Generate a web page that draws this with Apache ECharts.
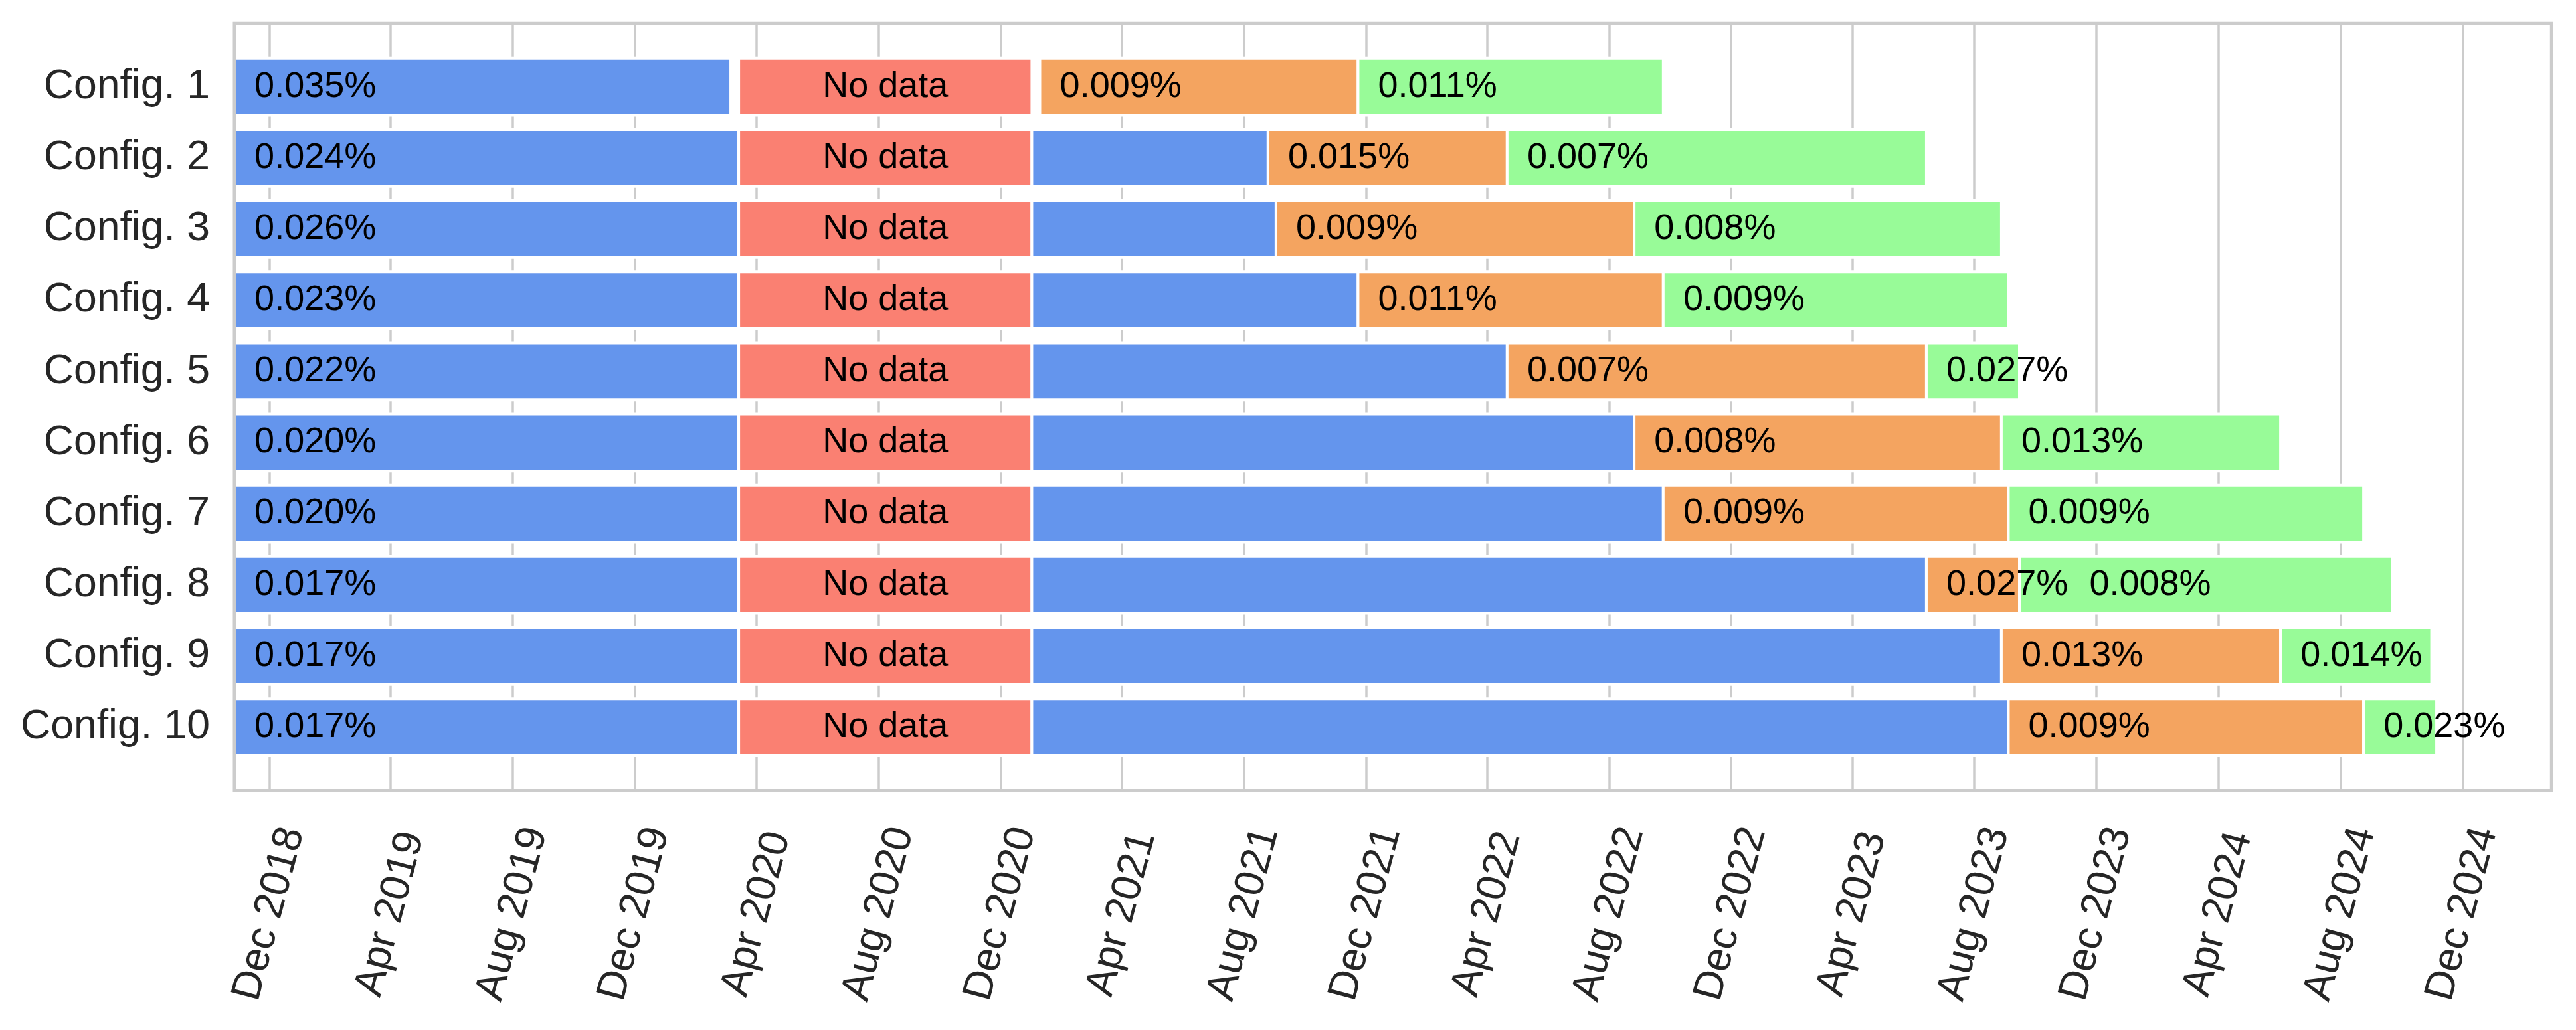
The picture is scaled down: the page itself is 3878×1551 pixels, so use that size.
<!DOCTYPE html>
<html>
<head>
<meta charset="utf-8">
<script src="https://cdn.jsdelivr.net/npm/echarts@6/dist/echarts.min.js"></script>
<style>
html, body { margin: 0; padding: 0; background: #ffffff; }
#chart { width: 3878px; height: 1551px; }
</style>
</head>
<body>
<div id="chart"></div>
<script>
// ---------------- data ----------------
const categories = ['Config. 1', 'Config. 2', 'Config. 3', 'Config. 4', 'Config. 5',
                    'Config. 6', 'Config. 7', 'Config. 8', 'Config. 9', 'Config. 10'];

const axisStart = '2018-10-27';
const axisEnd = '2025-02-28';

const tickDates = ['2018-12-01', '2019-04-01', '2019-08-01', '2019-12-01', '2020-04-01',
                   '2020-08-01', '2020-12-01', '2021-04-01', '2021-08-01', '2021-12-01',
                   '2022-04-01', '2022-08-01', '2022-12-01', '2023-04-01', '2023-08-01',
                   '2023-12-01', '2024-04-01', '2024-08-01', '2024-12-01'];

// first period (blue, labelled)
const blueStart = ['2018-10-27', '2018-10-27', '2018-10-27', '2018-10-27', '2018-10-27',
                   '2018-10-27', '2018-10-27', '2018-10-27', '2018-10-27', '2018-10-27'];
const blueEnd   = ['2020-03-06', '2020-03-14', '2020-03-14', '2020-03-14', '2020-03-14',
                   '2020-03-14', '2020-03-14', '2020-03-14', '2020-03-14', '2020-03-14'];
const blueLabels = ['0.035%', '0.024%', '0.026%', '0.023%', '0.022%',
                    '0.020%', '0.020%', '0.017%', '0.017%', '0.017%'];

// no-data period (red)
const noDataStart = ['2020-03-14', '2020-03-14', '2020-03-14', '2020-03-14', '2020-03-14',
                     '2020-03-14', '2020-03-14', '2020-03-14', '2020-03-14', '2020-03-14'];
const noDataEnd   = ['2021-01-01', '2021-01-01', '2021-01-01', '2021-01-01', '2021-01-01',
                     '2021-01-01', '2021-01-01', '2021-01-01', '2021-01-01', '2021-01-01'];
const noDataLabel = 'No data';

// second blue period (unlabelled)
const blue2Start = [null, '2021-01-01', '2021-01-01', '2021-01-01', '2021-01-01',
                    '2021-01-01', '2021-01-01', '2021-01-01', '2021-01-01', '2021-01-01'];
const blue2End   = [null, '2021-08-25', '2021-09-02', '2021-11-23', '2022-04-21',
                    '2022-08-26', '2022-09-24', '2023-06-14', '2023-08-28', '2023-09-04'];

// orange period
const orangeStart = ['2021-01-09', '2021-08-25', '2021-09-02', '2021-11-23', '2022-04-21',
                     '2022-08-26', '2022-09-24', '2023-06-14', '2023-08-28', '2023-09-04'];
const orangeEnd   = ['2021-11-23', '2022-04-21', '2022-08-26', '2022-09-24', '2023-06-14',
                     '2023-08-28', '2023-09-04', '2023-09-15', '2024-06-02', '2024-08-24'];
const orangeLabels = ['0.009%', '0.015%', '0.009%', '0.011%', '0.007%',
                      '0.008%', '0.009%', '0.027%', '0.013%', '0.009%'];

// green period
const greenStart = ['2021-11-23', '2022-04-21', '2022-08-26', '2022-09-24', '2023-06-14',
                    '2023-08-28', '2023-09-04', '2023-09-15', '2024-06-02', '2024-08-24'];
const greenEnd   = ['2022-09-24', '2023-06-14', '2023-08-28', '2023-09-04', '2023-09-15',
                    '2024-06-02', '2024-08-24', '2024-09-22', '2024-10-31', '2024-11-05'];
const greenLabels = ['0.011%', '0.007%', '0.008%', '0.009%', '0.027%',
                     '0.013%', '0.009%', '0.008%', '0.014%', '0.023%'];
// days after the segment start at which each green label begins
const greenLabelShiftDays = [20, 20, 20, 20, 20, 20, 20, 70, 20, 20];

// ---------------- build ----------------
const DAY = 86400000;
const LABEL_SHIFT_DAYS = 20;
const colors = { blue: '#6495ED', red: '#FA8072', orange: '#F4A460', green: '#98FB98' };
const FONT = "'Liberation Sans', Arial, Helvetica, sans-serif";
const MONTHS = ['Jan', 'Feb', 'Mar', 'Apr', 'May', 'Jun', 'Jul', 'Aug', 'Sep', 'Oct', 'Nov', 'Dec'];

function t(s) {
  const p = s.split('-').map(Number);
  return Date.UTC(p[0], p[1] - 1, p[2]);
}

const segments = [];
for (let i = 0; i < categories.length; i++) {
  segments.push({ row: i, s: t(blueStart[i]), e: t(blueEnd[i]), c: 'blue', text: blueLabels[i], mode: 'left', shift: LABEL_SHIFT_DAYS });
  segments.push({ row: i, s: t(noDataStart[i]), e: t(noDataEnd[i]), c: 'red', text: noDataLabel, mode: 'center', shift: 0 });
  if (blue2Start[i]) {
    segments.push({ row: i, s: t(blue2Start[i]), e: t(blue2End[i]), c: 'blue', text: '', mode: '', shift: 0 });
  }
  segments.push({ row: i, s: t(orangeStart[i]), e: t(orangeEnd[i]), c: 'orange', text: orangeLabels[i], mode: 'left', shift: LABEL_SHIFT_DAYS });
  segments.push({ row: i, s: t(greenStart[i]), e: t(greenEnd[i]), c: 'green', text: greenLabels[i], mode: 'left', shift: greenLabelShiftDays[i] });
}
const seriesData = segments.map(g => [g.s, g.row, g.e]);
const tickValues = tickDates.map(t);
const rowValues = categories.map((_, i) => i);

const chart = echarts.init(document.getElementById('chart'), null, { renderer: 'canvas' });

chart.setOption({
  animation: false,
  backgroundColor: '#ffffff',
  grid: {
    left: 353, right: 36.7, top: 35.3, bottom: 360.6,
    show: true, z: 10,
    backgroundColor: 'transparent',
    borderColor: '#cccccc', borderWidth: 5,
    containLabel: false,
    outerBoundsMode: 'none'
  },
  xAxis: {
    type: 'value',
    min: t(axisStart), max: t(axisEnd),
    axisLine: { show: false },
    axisTick: { show: false, customValues: tickValues },
    splitLine: { show: true, lineStyle: { color: '#cccccc', width: 3.5 } },
    axisLabel: {
      customValues: tickValues,
      formatter: function (v) {
        const d = new Date(v);
        return MONTHS[d.getUTCMonth()] + ' ' + d.getUTCFullYear();
      },
      rotate: 75,
      align: 'center',
      verticalAlign: 'middle',
      margin: 186,
      fontSize: 62.5,
      fontFamily: FONT,
      color: '#262626'
    }
  },
  yAxis: {
    type: 'value',
    inverse: true,
    min: -0.89, max: 9.89,
    axisLine: { show: false },
    axisTick: { show: false, customValues: rowValues },
    splitLine: { show: false },
    axisLabel: {
      customValues: rowValues,
      formatter: function (v) { return categories[Math.round(v)]; },
      margin: 37,
      fontSize: 62.5,
      fontFamily: FONT,
      color: '#262626'
    }
  },
  series: [{
    type: 'custom',
    data: seriesData,
    encode: { x: [0, 2], y: 1 },
    renderItem: function (params, api) {
      const g = segments[params.dataIndex];
      const s = api.value(0), row = api.value(1), e = api.value(2);
      const p0 = api.coord([s, row - 0.4]);
      const p1 = api.coord([e, row + 0.4]);
      const y0 = Math.min(p0[1], p1[1]);
      const h = Math.abs(p1[1] - p0[1]);
      const children = [{
        type: 'rect',
        shape: { x: p0[0], y: y0, width: p1[0] - p0[0], height: h },
        style: { fill: colors[g.c], stroke: '#ffffff', lineWidth: 4 },
        z2: params.dataIndex
      }];
      if (g.text) {
        let pt, align;
        if (g.mode === 'center') {
          pt = api.coord([(s + e) / 2, row]);
          align = 'center';
        } else {
          pt = api.coord([s + g.shift * DAY, row]);
          align = 'left';
        }
        children.push({
          type: 'text',
          z2: 1000,
          style: {
            text: g.text, x: pt[0], y: pt[1],
            fill: '#000000', fontSize: 54, fontFamily: FONT,
            align: align, verticalAlign: 'middle'
          }
        });
      }
      return { type: 'group', children: children };
    }
  }]
});
</script>
</body>
</html>
